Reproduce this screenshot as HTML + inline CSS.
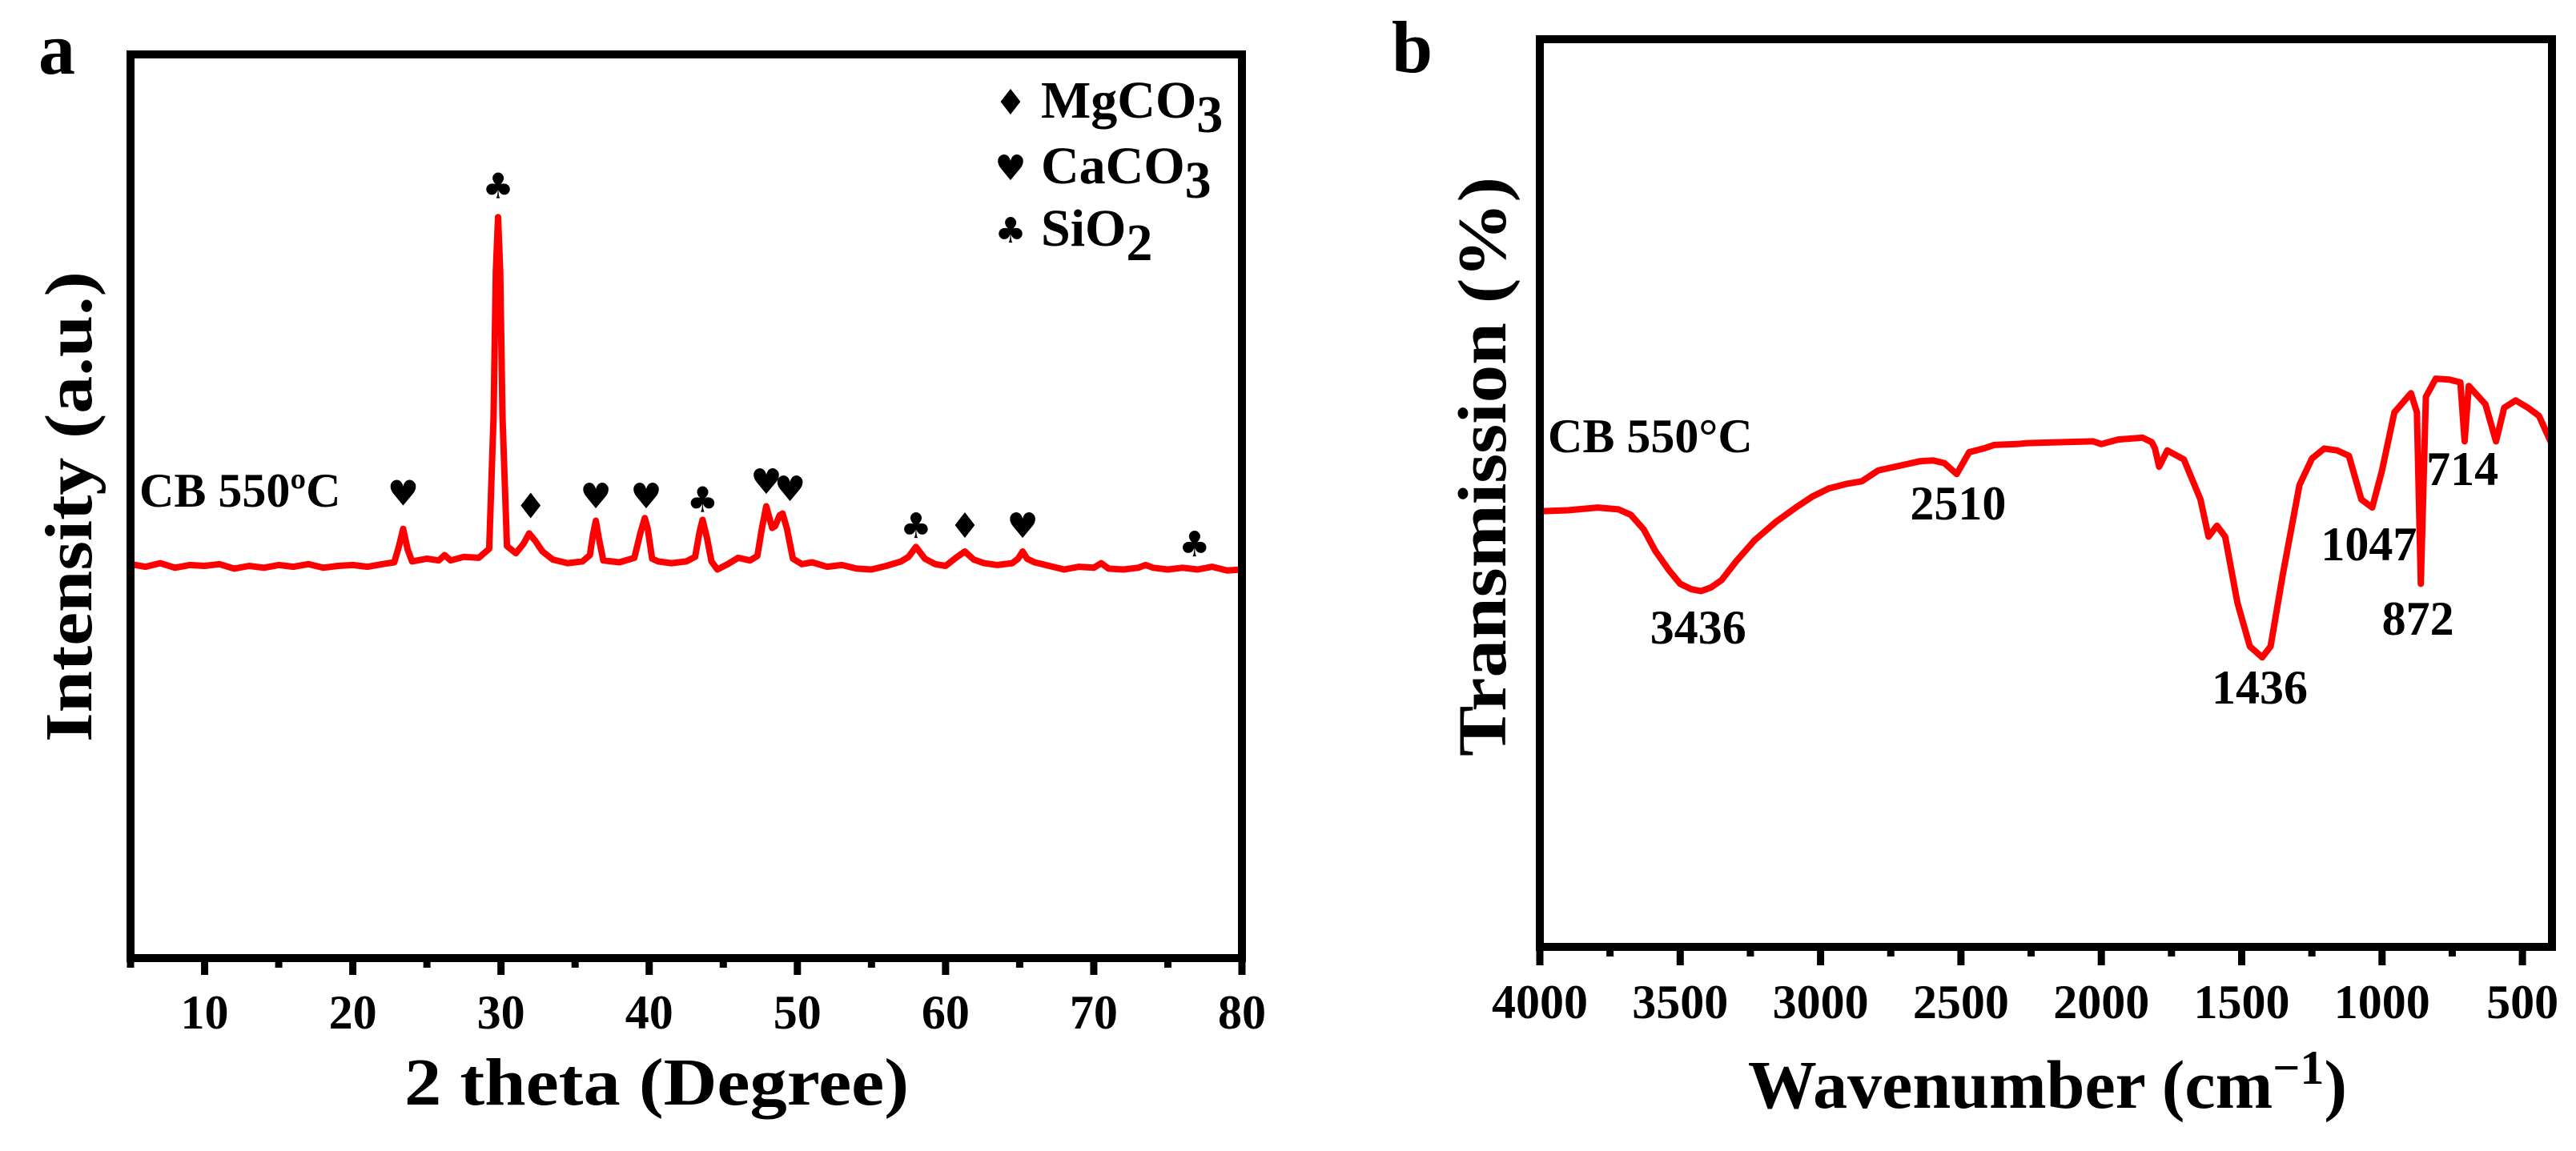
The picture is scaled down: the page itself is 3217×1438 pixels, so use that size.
<!DOCTYPE html>
<html><head><meta charset="utf-8"><style>
html,body{margin:0;padding:0;background:#fff}
svg{display:block}
text{font-family:"Liberation Serif","DejaVu Serif",serif;font-weight:bold;fill:#000}
.sym{font-family:"DejaVu Sans",sans-serif;font-weight:normal}
</style></head><body>
<svg id="fig" width="3217" height="1438" viewBox="0 0 3217 1438" xmlns="http://www.w3.org/2000/svg">
<g id="pa"></g>
<g id="pb"></g>
</svg>
<script>
// ---- XRD data (panel a) ----
const xrdTheta = [5,6,7,8,9,10,11,12,13,14,15,16,17,18,19,20,21,22,22.8,23.1,23.4,23.7,24.0,25,25.8,26.2,26.6,27.5,28.5,29.2,29.5,29.65,29.8,29.95,30.1,30.4,31,31.5,31.9,32.3,32.8,33.5,34.5,35.5,36.0,36.2,36.4,36.6,36.9,38,39,39.4,39.7,39.9,40.2,40.6,41.5,42.5,43.1,43.4,43.6,43.9,44.2,44.6,45.3,46,46.8,47.3,47.6,47.9,48.3,48.5,48.8,49.0,49.3,49.7,50.3,51,52,53,54,55,56,57,57.5,58,58.6,59.3,60,60.7,61.3,61.9,62.6,63.5,64.5,64.9,65.2,65.5,66,67,68,69,70,70.5,71,72,73,73.5,74,75,76,77,78,79,80];
const xrdInt = [43.6,43.3,43.7,43.2,43.5,43.4,43.6,43.1,43.4,43.2,43.5,43.3,43.6,43.2,43.4,43.5,43.3,43.6,43.8,45.5,47.5,45.2,43.9,44.2,44.0,44.6,44.0,44.4,44.3,45.3,60,76,82,76,60,45.6,44.8,45.8,47.0,46.2,45.0,44.1,43.7,43.9,44.6,46.8,48.4,46.5,44.0,43.8,44.3,47.0,48.7,47.5,44.2,43.9,43.7,43.9,44.4,47.2,48.5,46.5,43.9,43.0,43.6,44.3,44.0,44.5,47.5,50.0,47.6,47.8,49.0,49.2,47.5,44.2,43.6,43.8,43.3,43.5,43.1,43.0,43.4,43.9,44.4,45.5,44.2,43.6,43.4,44.3,45.0,44.1,43.7,43.5,43.7,44.2,45.0,44.2,43.8,43.4,43.0,43.3,43.2,43.7,43.1,43.0,43.2,43.5,43.2,43.0,43.2,43.0,43.3,42.9,43.0,42.8];
const mkTheta = [23.4,29.8,32.0,36.4,39.8,43.6,47.9,49.5,58.0,61.3,65.2,76.8];
const mkVal   = [51.5,85.5,50.1,51.2,51.2,50.8,52.8,52.0,47.9,47.9,47.9,45.9];
const mkSym   = ["♥","♣","♦","♥","♥","♣","♥","♥","♣","♦","♥","♣"];
const xrdTicks = [10,20,30,40,50,60,70,80];

// ---- FTIR data (panel b) ----
const irWn = [4000,3900,3794,3720,3676,3630,3588,3540,3500,3460,3426,3390,3353,3300,3235,3160,3088,3030,2971,2910,2853,2794,2720,2647,2600,2559,2515,2471,2420,2382,2300,2265,2150,2029,2000,1940,1853,1820,1809,1794,1765,1706,1647,1618,1588,1559,1515,1471,1427,1397,1353,1294,1250,1206,1160,1118,1074,1035,1000,956,897,876,862,844,809,760,721,706,691,632,594,565,524,480,441,400];
const irVal = [48.0,48.1,48.4,48.2,47.6,46.0,43.6,41.5,40.0,39.4,39.2,39.6,40.4,42.5,44.8,46.8,48.4,49.6,50.5,51.0,51.3,52.5,53.0,53.5,53.6,53.3,52.1,54.5,54.9,55.3,55.4,55.5,55.6,55.7,55.4,55.9,56.1,55.6,54.9,52.9,54.7,53.7,49.3,45.2,46.4,45.2,37.9,33.1,31.9,33.1,41.1,50.9,53.8,54.9,54.7,54.1,49.3,48.4,52.5,58.9,61.0,58.9,40.0,60.6,62.6,62.5,62.2,55.7,61.8,59.8,55.7,59.4,60.2,59.4,58.5,55.7];
const irTicks = [4000,3500,3000,2500,2000,1500,1000,500];
const irLabels = ["3436","2510","1436","1047","872","714"];
const irLabelWn = [3436,2510,1436,1047,872,714];
const irLabelVal = [33.4,47.1,26.8,42.6,34.4,50.9];

const NS="http://www.w3.org/2000/svg";
function mk(parent,tag,attrs,txt){const e=document.createElementNS(NS,tag);for(const k in attrs)e.setAttribute(k,attrs[k]);if(txt!==undefined)e.textContent=txt;parent.appendChild(e);return e;}

// ===== Panel a =====
const A={x0:163,x1:1551,y0:68,y1:1197};
const ax=t=>A.x0+(t-5)/75*(A.x1-A.x0);
const ay=v=>A.y1-v/100*(A.y1-A.y0);
const pa=document.getElementById('pa');
let t=mk(pa,'text',{x:48,y:92,'font-size':92});t.textContent='a';


// ticks
for(let v=5;v<=80;v+=5){const major=v%10===0;const l=mk(pa,'line',{x1:ax(v),x2:ax(v),y1:A.y1,y2:A.y1+(major?21:12),stroke:'#000','stroke-width':9});

}
xrdTicks.forEach(v=>{const e=mk(pa,'text',{x:ax(v),y:1285,'font-size':60,'text-anchor':'middle'},String(v));

});
// series
let d=xrdTheta.map((x,i)=>(i?'L':'M')+ax(x).toFixed(1)+','+ay(xrdInt[i]).toFixed(1)).join(' ');
let p=mk(pa,'path',{d:d,fill:'none',stroke:'#ff0000','stroke-width':8,'stroke-linejoin':'round'});


mkTheta.forEach((x,i)=>{const e=mk(pa,'text',{x:ax(x),y:ay(mkVal[i])+16,'font-size':44,'text-anchor':'middle',class:'sym'},mkSym[i]);

});
let fr=mk(pa,'rect',{x:A.x0,y:A.y0,width:A.x1-A.x0,height:A.y1-A.y0,fill:'none',stroke:'#000','stroke-width':10});


t=mk(pa,'text',{x:174,y:633,'font-size':60},'CB 550ºC');


// legend
const legSym=["♦","♥","♣"],legMain=["MgCO","CaCO","SiO"],legSub=["3","3","2"],legY=[147,229,307];
legSym.forEach((s,i)=>{const g=mk(pa,'g',{});


mk(g,'text',{x:1262,y:legY[i]-4,'font-size':44,class:'sym','text-anchor':'middle'},s);
const tx=mk(g,'text',{x:1300,y:legY[i],'font-size':66});tx.textContent=legMain[i];
const ts=mk(tx,'tspan',{dy:18},legSub[i]);});
t=mk(pa,'text',{x:820,y:1380,'font-size':84,'text-anchor':'middle',textLength:630,lengthAdjust:'spacingAndGlyphs'},'2 theta (Degree)');


t=mk(pa,'text',{x:0,y:0,'font-size':84,'text-anchor':'middle',transform:'translate(114,633) rotate(-90)',textLength:588,lengthAdjust:'spacingAndGlyphs'},'Intensity (a.u.)');



// ===== Panel b =====
const B={x0:1923,x1:3187,y0:49,y1:1183};
const bx=w=>B.x0+(4000-w)*(175.3/500);
const by=v=>B.y1-v/100*(B.y1-B.y0);
const pb=document.getElementById('pb');
t=mk(pb,'text',{x:1738,y:90,'font-size':92},'b');


for(let w=4000;w>=400;w-=250){const major=w%500===0;const l=mk(pb,'line',{x1:bx(w),x2:bx(w),y1:B.y1,y2:B.y1+(major?23:12),stroke:'#000','stroke-width':9});

}
irTicks.forEach(w=>{const e=mk(pb,'text',{x:bx(w),y:1272,'font-size':60,'text-anchor':'middle'},String(w));

});
d=irWn.map((w,i)=>(i?'L':'M')+bx(w).toFixed(1)+','+by(irVal[i]).toFixed(1)).join(' ');
p=mk(pb,'path',{d:d,fill:'none',stroke:'#ff0000','stroke-width':8,'stroke-linejoin':'round'});


irLabels.forEach((s,i)=>{const e=mk(pb,'text',{x:bx(irLabelWn[i]),y:by(irLabelVal[i]),'font-size':60,'text-anchor':'middle'},s);

});
fr=mk(pb,'rect',{x:B.x0,y:B.y0,width:B.x1-B.x0,height:B.y1-B.y0,fill:'none',stroke:'#000','stroke-width':10});


t=mk(pb,'text',{x:1933,y:565,'font-size':60},'CB 550°C');


t=mk(pb,'text',{x:2557,y:1384,'font-size':86,'text-anchor':'middle'});


t.textContent='Wavenumber (cm';
mk(t,'tspan',{dy:-30,'font-size':60},'−1');
mk(t,'tspan',{dy:30},')');
t=mk(pb,'text',{x:0,y:0,'font-size':86,'text-anchor':'middle',transform:'translate(1880,583) rotate(-90)',textLength:724,lengthAdjust:'spacingAndGlyphs'},'Transmission (%)');


</script>
</body></html>
